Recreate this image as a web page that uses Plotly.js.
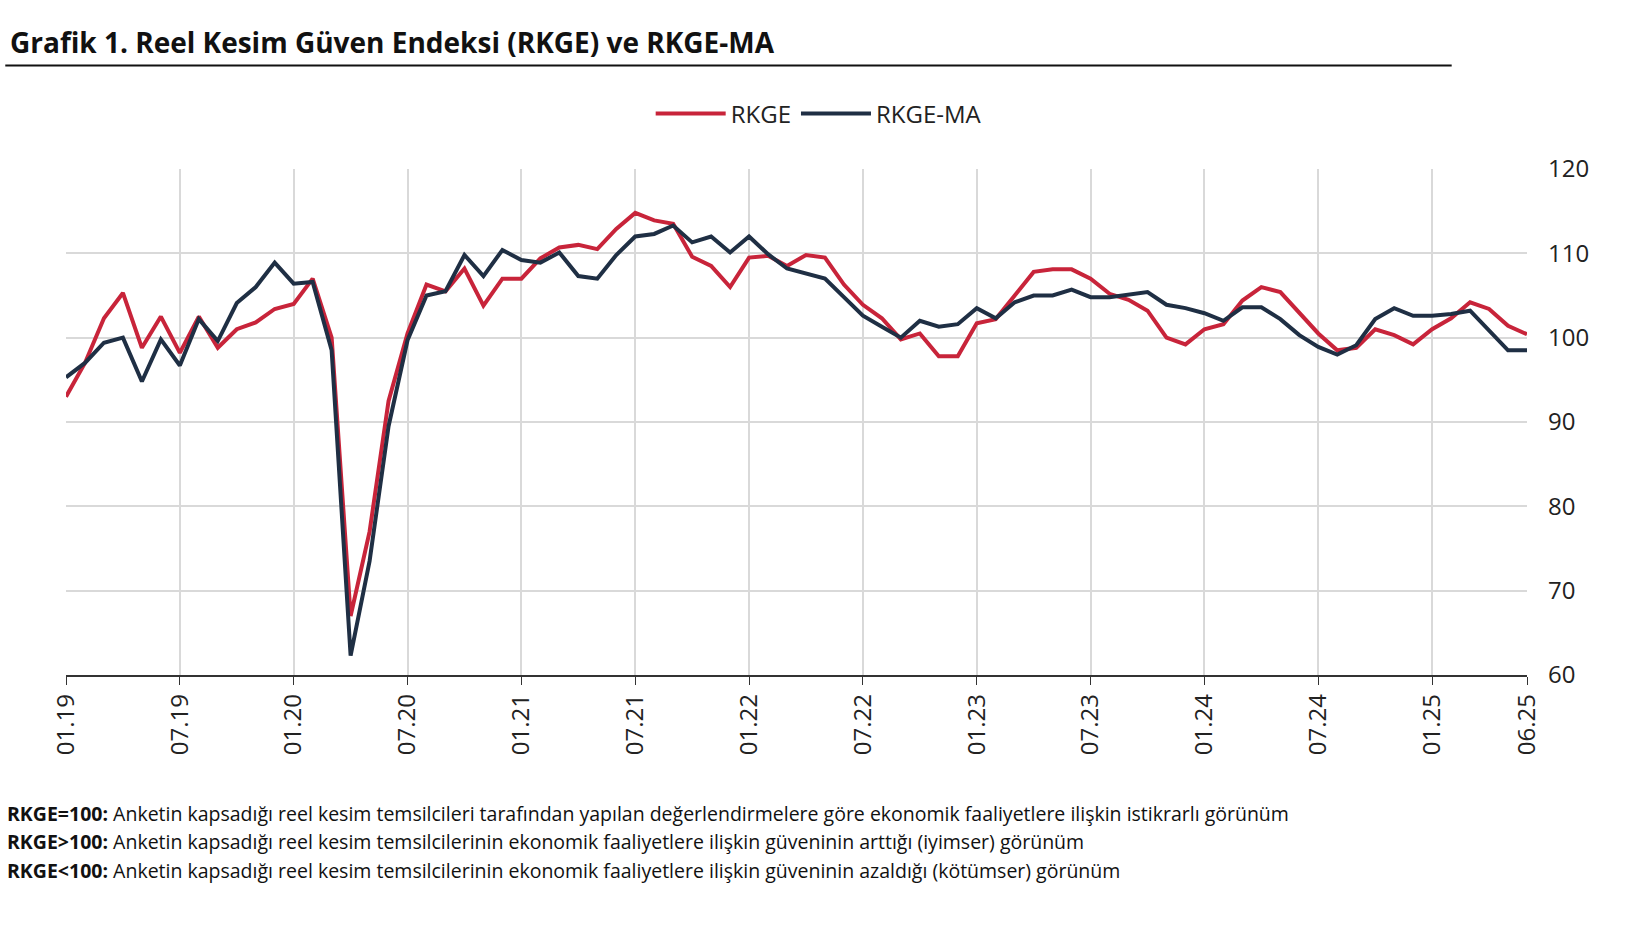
<!DOCTYPE html>
<html>
<head>
<meta charset="utf-8">
<script src="https://cdn.plot.ly/plotly-3.0.1.min.js"></script>
<style>body{margin:0;background:#fff}#chart{width:1646px;height:930px}</style>
</head>
<body>
<div id="chart"></div>
<script>
const years = ["19", "20", "21", "22", "23", "24", "25"];
const months = [];
years.forEach(y => {
    for (let m = 1; m <= 12; m++) {
        if (y === "25" && m > 6) break;
        months.push(String(m).padStart(2, "0") + "." + y);
    }
});

const rkge = [93, 97, 102.3, 105.3, 98.8, 102.5, 98.2, 102.5, 98.8, 101, 101.8, 103.4,
    104, 107, 100, 67, 77, 92.5, 100.5, 106.3, 105.5, 108.2, 103.8, 107,
    107, 109.4, 110.7, 111, 110.5, 112.9, 114.8, 113.9, 113.5, 109.6, 108.5, 106,
    109.5, 109.7, 108.5, 109.8, 109.5, 106.3, 103.9, 102.3, 99.8, 100.5, 97.8, 97.8,
    101.7, 102.2, 105, 107.8, 108.1, 108.1, 107, 105.2, 104.5, 103.2, 100, 99.2,
    101, 101.6, 104.4, 106, 105.4, 102.9, 100.5, 98.5, 98.8, 101, 100.3, 99.2,
    101, 102.3, 104.2, 103.4, 101.4, 100.4];

const rkgeMa = [95.3, 97, 99.4, 100, 94.8, 99.8, 96.7, 102.2, 99.6, 104.1, 106, 108.9,
    106.4, 106.6, 98.5, 62.3, 73.5, 89.5, 99.7, 105, 105.5, 109.8, 107.3, 110.4,
    109.2, 108.9, 110.1, 107.3, 107, 109.8, 112, 112.3, 113.3, 111.3, 112, 110.1,
    112, 109.9, 108.2, 107.6, 107, 104.8, 102.6, 101.3, 100, 102, 101.3, 101.6,
    103.5, 102.3, 104.2, 105, 105, 105.7, 104.8, 104.8, 105.1, 105.4, 103.9, 103.5,
    102.9, 102, 103.6, 103.6, 102.2, 100.3, 98.9, 98, 99.1, 102.2, 103.5, 102.6,
    102.6, 102.8, 103.2, 100.9, 98.5, 98.5];

const tickLabels = months.filter((m, i) => i % 6 === 0 || i === months.length - 1);

const notes = [
    ["RKGE=100:", "Anketin kapsadığı reel kesim temsilcileri tarafından yapılan değerlendirmelere göre ekonomik faaliyetlere ilişkin istikrarlı görünüm"],
    ["RKGE>100:", "Anketin kapsadığı reel kesim temsilcilerinin ekonomik faaliyetlere ilişkin güveninin arttığı (iyimser) görünüm"],
    ["RKGE<100:", "Anketin kapsadığı reel kesim temsilcilerinin ekonomik faaliyetlere ilişkin güveninin azaldığı (kötümser) görünüm"]
];

const W = 1646, H = 930, s = 1.055;
const L = Math.round(63 * s), R = Math.round(1447 * s), T = Math.round(160 * s), B = Math.round(640 * s);
// pixel (reference image) -> paper coords relative to plot area
const px = x => (x * s - L) / (R - L);
const py = y => (B - y * s) / (B - T);

const data = [
    {x: months, y: rkge, type: "scatter", mode: "lines", name: "RKGE",
     line: {color: "#c8243a", width: 4}},
    {x: months, y: rkgeMa, type: "scatter", mode: "lines", name: "RKGE-MA",
     line: {color: "#1f2f44", width: 4}}
];

const annotations = [{
    text: "<b>Grafik 1. Reel Kesim Güven Endeksi (RKGE) ve RKGE-MA</b>",
    xref: "paper", yref: "paper", x: px(8), y: py(40), xanchor: "left", yanchor: "middle",
    showarrow: false, font: {size: 28, color: "#111"}
}];
notes.forEach((n, i) => annotations.push({
    text: "<b>" + n[0] + "</b> " + n[1],
    xref: "paper", yref: "paper", x: px(5), y: py(771 + i * 27), xanchor: "left", yanchor: "middle",
    showarrow: false, font: {size: 19.5, color: "#111"}
}));

const layout = {
    width: W, height: H,
    margin: {l: L, r: W - R, t: T, b: H - B},
    paper_bgcolor: "#fff", plot_bgcolor: "#fff",
    font: {family: "Open Sans, sans-serif", color: "#222"},
    showlegend: true,
    legend: {orientation: "h", x: px(776), xanchor: "center", y: py(108), yanchor: "middle",
             font: {size: 24, color: "#222"}, itemwidth: 70},
    xaxis: {
        type: "category", tickmode: "array", tickvals: tickLabels, ticktext: tickLabels,
        tickangle: -90, tickfont: {size: 24, color: "#222"},
        showgrid: true, gridcolor: "#d9d9d9", gridwidth: 2,
        showline: true, linecolor: "#333", linewidth: 1.5,
        ticks: "outside", ticklen: 8, tickcolor: "#333",
        range: [0, months.length - 1]
    },
    yaxis: {
        side: "right", range: [60, 120], dtick: 10,
        tickfont: {size: 24, color: "#222"},
        showgrid: true, gridcolor: "#d9d9d9", gridwidth: 2,
        zeroline: false, ticks: "", ticklabelstandoff: 20
    },
    shapes: [{type: "line", xref: "paper", yref: "paper",
              x0: px(5), x1: px(1376), y0: py(62), y1: py(62),
              line: {color: "#111", width: 2}}],
    annotations: annotations
};

Plotly.newPlot("chart", data, layout, {displayModeBar: false, staticPlot: true});
</script>
</body>
</html>
